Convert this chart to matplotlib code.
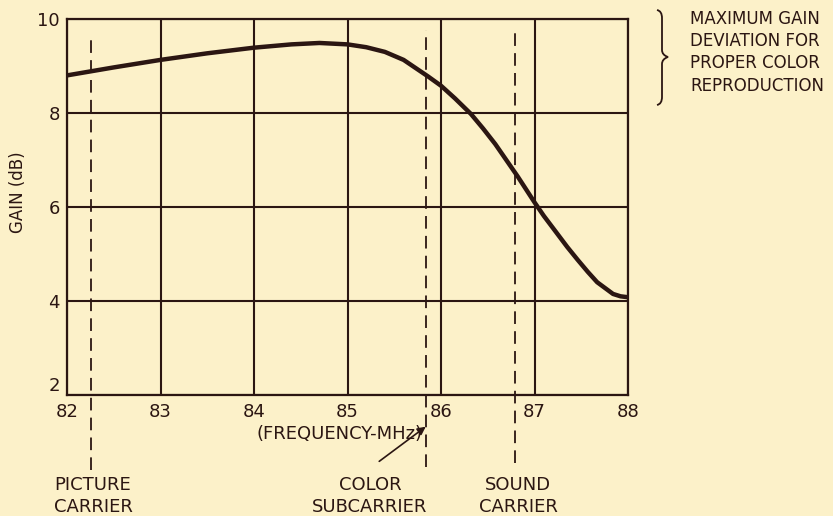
import matplotlib.pyplot as plt
from matplotlib.path import Path
from matplotlib.patches import PathPatch, FancyArrowPatch

# amplifier response, gain vs frequency
freq_mhz = [82.0, 82.5, 83.0, 83.5, 84.0, 84.4, 84.7, 85.0, 85.2, 85.4,
            85.6, 85.86, 86.0, 86.15, 86.32, 86.45, 86.58, 86.82, 87.0,
            87.1, 87.21, 87.35, 87.46, 87.57, 87.67, 87.84, 87.92, 88.0]
gain_db = [8.80, 8.97, 9.13, 9.27, 9.39, 9.46, 9.49, 9.46, 9.40, 9.30,
           9.13, 8.78, 8.58, 8.31, 7.98, 7.67, 7.34, 6.65, 6.10,
           5.81, 5.52, 5.15, 4.88, 4.62, 4.40, 4.15, 4.10, 4.08]

x_ticks = [82, 83, 84, 85, 86, 87, 88]
y_ticks = [2, 4, 6, 8, 10]

# carrier markers: position, label, top / bottom of the dashed line
carrier_freq = [82.26, 85.84, 86.79]
carrier_names = ["PICTURE\nCARRIER", "COLOR\nSUBCARRIER", "SOUND\nCARRIER"]
carrier_top = [9.6, 9.77, 9.75]
carrier_bottom = [0.40, 0.47, 0.55]

note_text = "MAXIMUM GAIN\nDEVIATION FOR\nPROPER COLOR\nREPRODUCTION"

BG = "#fcf1c9"
INK = "#2b1612"
W, H = 833, 516

plt.rcParams["font.family"] = ["Liberation Sans Narrow", "DejaVu Sans"]

fig = plt.figure(figsize=(W / 100, H / 100), dpi=100)
fig.patch.set_facecolor(BG)


def fx(px):
    return px / W


def fy(py):
    return 1 - py / H


ax = fig.add_axes([fx(67), fy(395), fx(628) - fx(67), fy(19) - fy(395)])
ax.set_facecolor(BG)
ax.set_xlim(82, 88)
ax.set_ylim(2, 10)
ax.set_xticks(x_ticks)
ax.set_yticks(y_ticks)
ax.grid(True, color=INK, lw=1.5)
ax.set_axisbelow(True)
for s in ax.spines.values():
    s.set_color(INK)
    s.set_linewidth(1.6)
ax.tick_params(length=0, colors=INK, labelsize=13)
ax.tick_params(axis="x", pad=6)
ax.tick_params(axis="y", pad=5)
ax.set_xticklabels([str(t) for t in x_ticks])
ax.set_yticklabels([str(t) for t in y_ticks])
# lift the lowest gain label clear of the first frequency label
ax.get_yticklabels()[0].set_verticalalignment("bottom")

ax.plot(freq_mhz, gain_db, color=INK, lw=3.2, solid_capstyle="round",
        solid_joinstyle="round", zorder=3)

for f, top, bot in zip(carrier_freq, carrier_top, carrier_bottom):
    ax.plot([f, f], [bot, top], color=INK, lw=1.3, dashes=(7, 4),
            clip_on=False, zorder=2)

ax.set_ylabel("GAIN (dB)", fontsize=12, color=INK)
ax.yaxis.set_label_coords(-0.072, 0.54)

fig.text(fx(340), fy(434), "(FREQUENCY-MHz)", ha="center", va="center",
         fontsize=13, color=INK)

label_x = [93, 370, 518]
for px, name in zip(label_x, carrier_names):
    fig.text(fx(px), fy(496), name, ha="center", va="center", fontsize=13,
             color=INK, linespacing=1.25)

# pointer to the color subcarrier line
fig.patches.append(FancyArrowPatch(
    (fx(377), fy(463)), (fx(428), fy(425)), transform=fig.transFigure,
    arrowstyle="-|>", mutation_scale=12, lw=1.2, color=INK))

# curly brace next to the note
verts = [(657, 10), (662, 11), (662, 18), (662, 30),
         (662, 50), (662, 55), (668, 57),
         (662, 59), (662, 64),
         (662, 85), (662, 97), (662, 104), (657, 105)]
codes = [Path.MOVETO, Path.CURVE3, Path.CURVE3, Path.LINETO,
         Path.LINETO, Path.CURVE3, Path.CURVE3,
         Path.CURVE3, Path.CURVE3,
         Path.LINETO, Path.LINETO, Path.CURVE3, Path.CURVE3]
brace = Path([(fx(x), fy(y)) for x, y in verts], codes)
fig.patches.append(PathPatch(brace, transform=fig.transFigure, fill=False,
                             edgecolor=INK, lw=1.3))

fig.text(fx(690), fy(10), note_text, ha="left", va="top", fontsize=12,
         color=INK, linespacing=1.3)

fig.savefig("out.png", dpi=100, facecolor=BG)
